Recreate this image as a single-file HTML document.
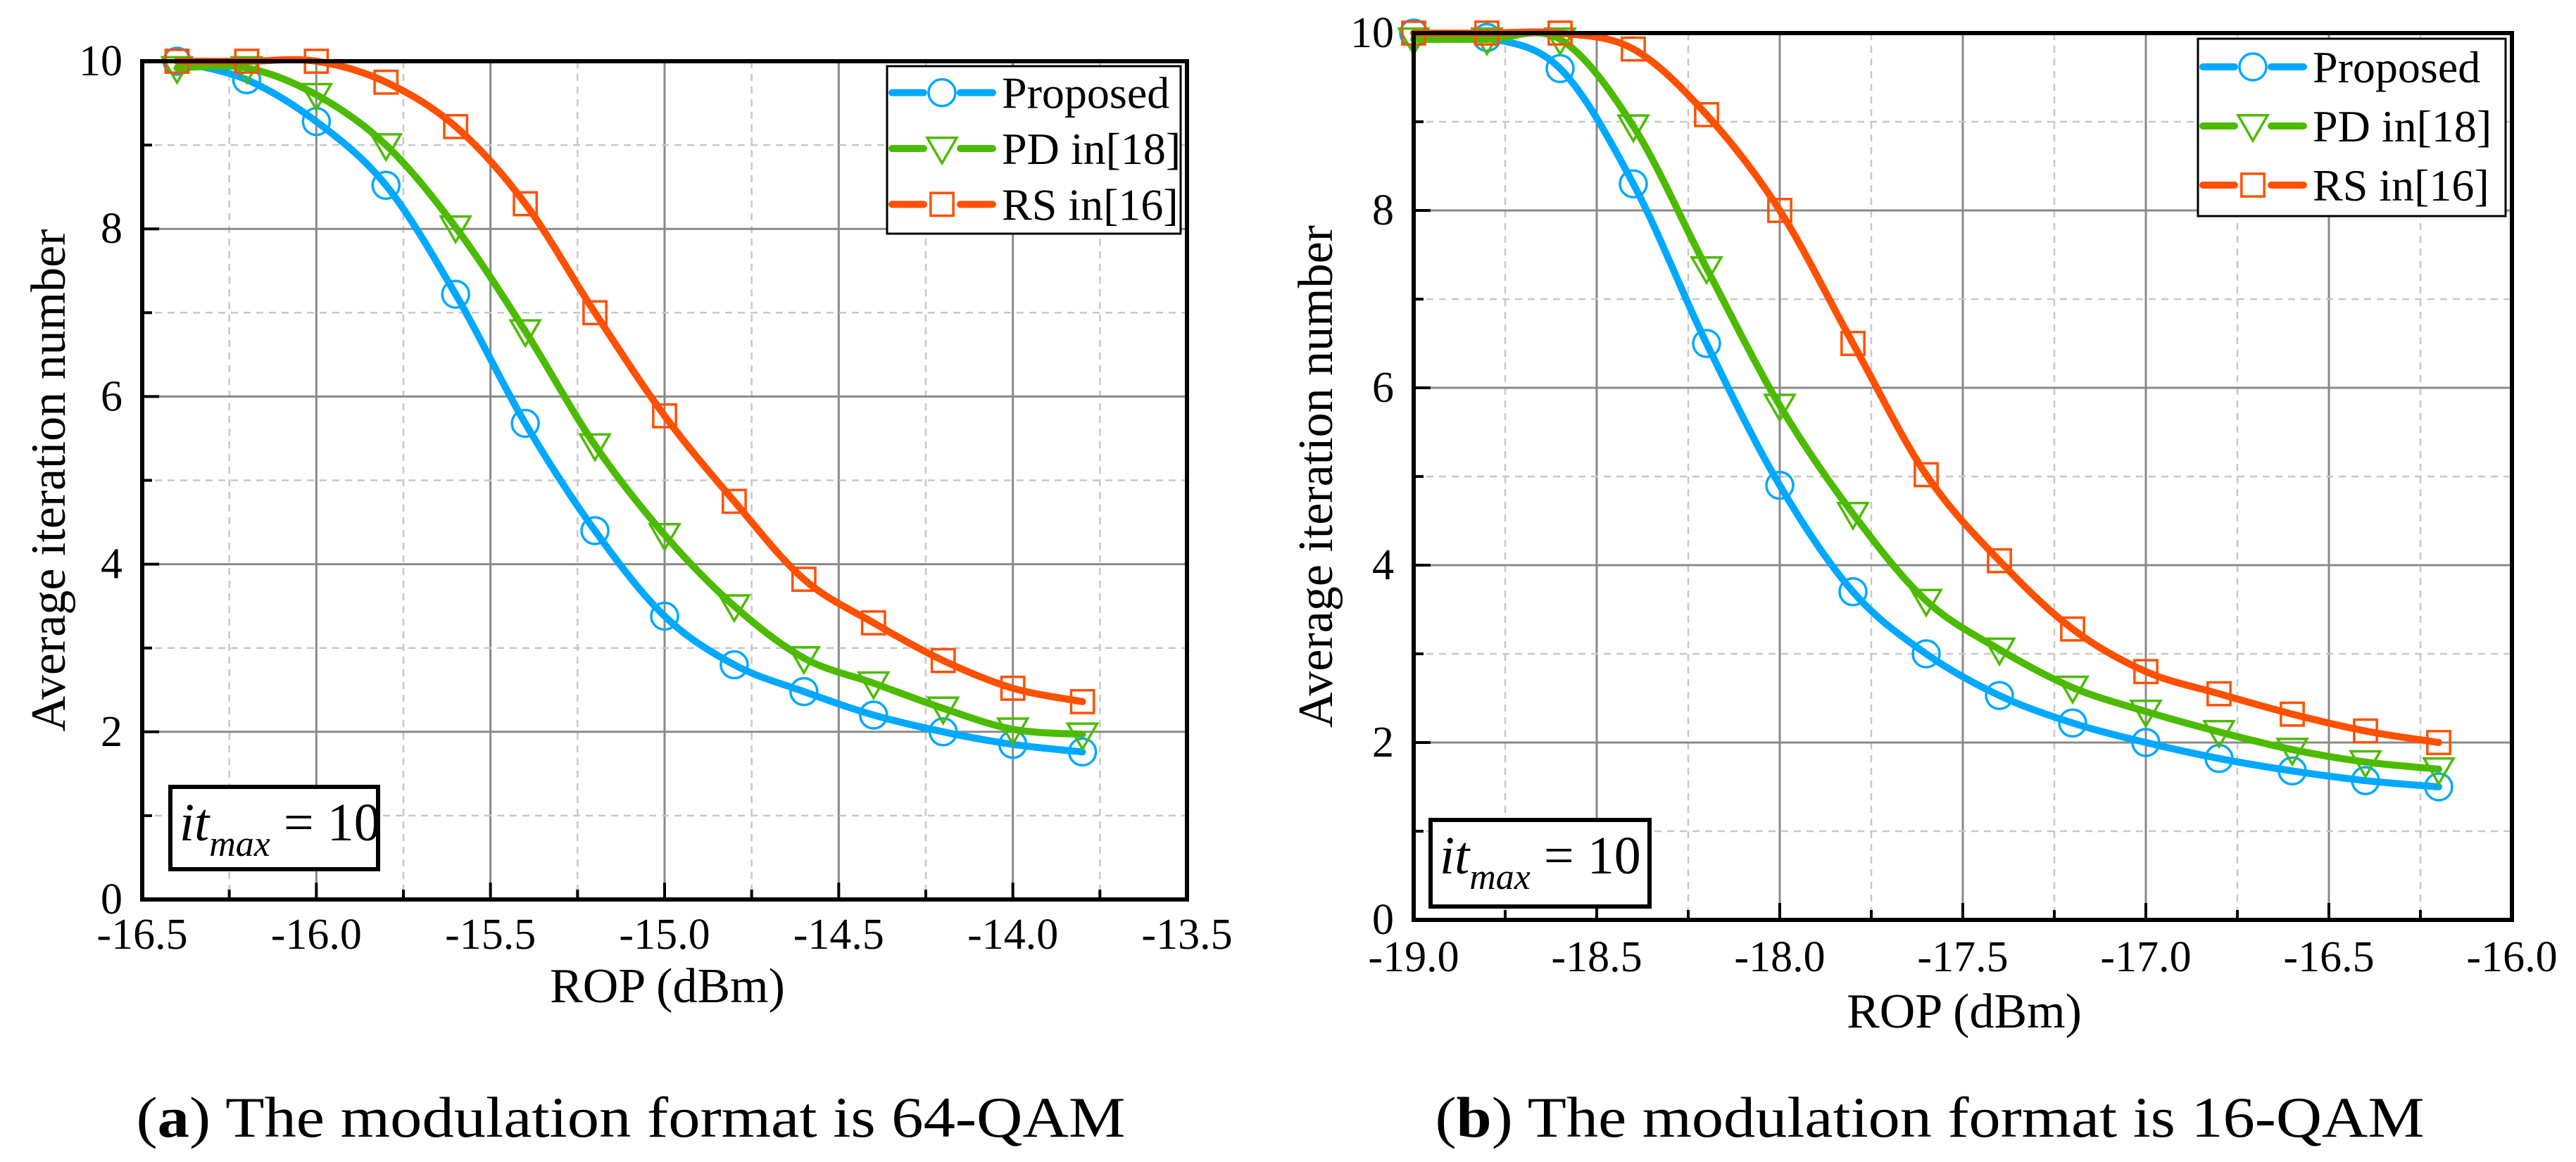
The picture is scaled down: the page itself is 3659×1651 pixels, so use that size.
<!DOCTYPE html>
<html><head><meta charset="utf-8"><style>
html,body{margin:0;padding:0;background:#fff;}
svg{display:block;}
text{font-family:"Liberation Serif","DejaVu Serif",serif;}
</style></head><body>
<svg id="fig" width="3659" height="1651" viewBox="0 0 3659 1651" xmlns="http://www.w3.org/2000/svg" font-family="Liberation Serif, DejaVu Serif, serif"></svg>
<script>
// ---- Chart (a) data: 64-QAM ----
const xA = [-16.4,-16.2,-16.0,-15.8,-15.6,-15.4,-15.2,-15.0,-14.8,-14.6,-14.4,-14.2,-14.0,-13.8];
const proposedA = [10,9.78,9.28,8.52,7.22,5.68,4.4,3.38,2.8,2.48,2.2,2.0,1.85,1.76];
const pdA = [9.92,9.92,9.6,9.0,8.02,6.78,5.42,4.35,3.5,2.88,2.58,2.28,2.03,1.97];
const rsA = [10,10,10,9.75,9.22,8.3,7.0,5.77,4.75,3.82,3.3,2.85,2.52,2.36];
const xTicksA = ["-16.5","-16.0","-15.5","-15.0","-14.5","-14.0","-13.5"];
// ---- Chart (b) data: 16-QAM ----
const xB = [-19.0,-18.8,-18.6,-18.4,-18.2,-18.0,-17.8,-17.6,-17.4,-17.2,-17.0,-16.8,-16.6,-16.4,-16.2];
const proposedB = [10,9.95,9.6,8.3,6.5,4.9,3.7,3.0,2.53,2.22,2.0,1.82,1.68,1.57,1.5];
const pdB = [9.93,9.93,9.93,8.95,7.35,5.8,4.58,3.6,3.05,2.62,2.35,2.12,1.92,1.78,1.7];
const rsB = [10,10,10,9.82,9.08,8.0,6.5,5.02,4.05,3.28,2.8,2.55,2.32,2.13,2.0];
const xTicksB = ["-19.0","-18.5","-18.0","-17.5","-17.0","-16.5","-16.0"];
const yTicks = ["0","2","4","6","8","10"];
const seriesNames = ["Proposed","PD in[18]","RS in[16]"];

const NS="http://www.w3.org/2000/svg";
const FONT='"Liberation Serif","DejaVu Serif",serif';
const svg=document.getElementById('fig');
function mk(tag,attrs,parent){const e=document.createElementNS(NS,tag);for(const k in attrs)e.setAttribute(k,attrs[k]);if(tag==='text')e.style.fontFamily=FONT;(parent||svg).appendChild(e);return e;}
const COLORS=["#00a8ff","#4cbb00","#ff5000"];
const MARK=["circle","tri","square"];

function smoothPath(pts){
  let d="M"+pts[0][0]+","+pts[0][1];
  for(let i=0;i<pts.length-1;i++){
    const p0=pts[i-1]||pts[i],p1=pts[i],p2=pts[i+1],p3=pts[i+2]||p2;
    const c1x=p1[0]+(p2[0]-p0[0])/6,c1y=p1[1]+(p2[1]-p0[1])/6;
    const c2x=p2[0]-(p3[0]-p1[0])/6,c2y=p2[1]-(p3[1]-p1[1])/6;
    d+=" C"+c1x+","+c1y+" "+c2x+","+c2y+" "+p2[0]+","+p2[1];
  }
  return d;
}
function marker(g,type,cx,cy,color,r){
  let m;
  if(type==="circle") m=mk('circle',{cx:cx,cy:cy,r:r,fill:'none',stroke:color,'stroke-width':3.5},g);
  else if(type==="square") m=mk('rect',{x:cx-r*0.85,y:cy-r*0.85,width:r*1.7,height:r*1.7,fill:'none',stroke:color,'stroke-width':3.5},g);
  else m=mk('polygon',{points:(cx-r*1.1)+","+(cy-r*0.8)+" "+(cx+r*1.1)+","+(cy-r*0.8)+" "+cx+","+(cy+r*1.1),fill:'none',stroke:color,'stroke-width':3.5},g);
  return m;
}

function chart(cfg){
  const {L,R,T,B,xmin,xmax,xs,series,xTicks,id}=cfg;
  const X=v=>L+(v-xmin)/(xmax-xmin)*(R-L);
  const Y=v=>B-v/10*(B-T);
  const g=mk('g',{});
  
  
  for(let i=1;i<12;i++){
    const v=xmin+i*0.25;const x=X(v);
    const major=i%2===0;
    const l=mk('line',{x1:x,y1:T,x2:x,y2:B,stroke:major?'#8a8a8a':'#c8c8c8','stroke-width':major?3:2.5,'stroke-dasharray':major?'none':'10,8'},g);
    
    
  }
  for(let i=1;i<10;i++){
    const y=Y(i);const major=i%2===0;
    const l=mk('line',{x1:L,y1:y,x2:R,y2:y,stroke:major?'#8a8a8a':'#c8c8c8','stroke-width':major?3:2.5,'stroke-dasharray':major?'none':'10,8'},g);
    
    
  }
  for(let i=1;i<12;i++){
    const x=X(xmin+i*0.25);const len=i%2===0?24:14;
    mk('line',{x1:x,y1:B,x2:x,y2:B-len,stroke:'#000','stroke-width':4},g);
  }
  for(let i=1;i<10;i++){
    const y=Y(i);const len=i%2===0?24:14;
    mk('line',{x1:L,y1:y,x2:L+len,y2:y,stroke:'#000','stroke-width':4},g);
  }
  series.forEach((ys,si)=>{
    const pts=xs.map((x,i)=>[X(x),Y(ys[i])]);
    const p=mk('path',{d:smoothPath(pts),fill:'none',stroke:COLORS[si],'stroke-width':10,'stroke-linejoin':'round','stroke-linecap':'round'},g);
    
    
    pts.forEach(pt=>{
      const m=marker(g,MARK[si],pt[0],pt[1],COLORS[si],19);
      
      
    });
  });
  const f=mk('rect',{x:L,y:T,width:R-L,height:B-T,fill:'none',stroke:'#000','stroke-width':6},g);
  
  
  xTicks.forEach((t,i)=>{
    const tx=mk('text',{x:X(xmin+i*0.5),y:cfg.tickBase,'font-size':62,'text-anchor':'middle',fill:'#000'},g);
    tx.textContent=t;
    
    
  });
  yTicks.forEach((t,i)=>{
    const tx=mk('text',{x:L-28,y:Y(i*2)+20,'font-size':62,'text-anchor':'end',fill:'#000'},g);
    tx.textContent=t;
    
    
  });
  const xt=mk('text',{x:cfg.xTitleX,y:cfg.xTitleY,'font-size':70,'text-anchor':'middle',fill:'#000'},g);
  xt.textContent="ROP (dBm)";
  
  
  const yt=mk('text',{x:0,y:0,'font-size':70,'text-anchor':'middle',fill:'#000',transform:'translate('+cfg.yTitleX+','+((T+B)/2)+') rotate(-90)'},g);
  yt.textContent="Average iteration number";
  
  
  const lg=cfg.leg;
  const lgg=mk('g',{},g);
  
  
  mk('rect',{x:lg.x1,y:lg.y1,width:lg.x2-lg.x1,height:lg.y2-lg.y1,fill:'#fff',stroke:'#000','stroke-width':3},lgg);
  const rowH=(lg.y2-lg.y1)/3;
  seriesNames.forEach((n,i)=>{
    const cy=lg.y1+rowH*(i+0.5)-2;
    const e=mk('g',{},lgg);
    
    
    mk('line',{x1:lg.x1+7,y1:cy,x2:lg.x1+52,y2:cy,stroke:COLORS[i],'stroke-width':10,'stroke-linecap':'round'},e);
    mk('line',{x1:lg.x1+104,y1:cy,x2:lg.x1+150,y2:cy,stroke:COLORS[i],'stroke-width':10,'stroke-linecap':'round'},e);
    marker(e,MARK[i],lg.x1+78,cy,COLORS[i],19);
    const t=mk('text',{x:lg.x1+163,y:cy+22,'font-size':64,fill:'#000'},e);
    t.textContent=n;
  });
  const ib=cfg.itbox;
  const ig=mk('g',{},g);
  
  
  mk('rect',{x:ib.x1,y:ib.y1,width:ib.x2-ib.x1,height:ib.y2-ib.y1,fill:'#fff',stroke:'#000','stroke-width':6},ig);
  const it=mk('text',{x:ib.x1+13,y:ib.y1+76,'font-size':76,fill:'#000'},ig);
  const a=document.createElementNS(NS,'tspan');a.setAttribute('font-style','italic');a.textContent='it';it.appendChild(a);
  const b=document.createElementNS(NS,'tspan');b.setAttribute('font-style','italic');b.setAttribute('font-size','52');b.setAttribute('dy','22');b.textContent='max';it.appendChild(b);
  const c=document.createElementNS(NS,'tspan');c.setAttribute('dy','-22');c.textContent=' = 10';it.appendChild(c);
  const cap=mk('text',{x:cfg.capX,y:1615,'font-size':82,'text-anchor':'middle',fill:'#000',textLength:1405,lengthAdjust:'spacingAndGlyphs'},g);
  const cb=document.createElementNS(NS,'tspan');cb.textContent='(';cap.appendChild(cb);
  const cb2=document.createElementNS(NS,'tspan');cb2.setAttribute('font-weight','bold');cb2.textContent=cfg.letter;cap.appendChild(cb2);
  const cb3=document.createElementNS(NS,'tspan');cb3.textContent=') The modulation format is '+cfg.fmt;cap.appendChild(cb3);
  
  
}

chart({id:'chart-a',L:202,R:1686,T:87,B:1278,xmin:-16.5,xmax:-13.5,xs:xA,series:[proposedA,pdA,rsA],xTicks:xTicksA,
  tickBase:1348,xTitleX:948,xTitleY:1424,yTitleX:92,capX:896,letter:'a',fmt:'64-QAM',
  leg:{x1:1260,y1:94,x2:1677,y2:332},itbox:{x1:242,y1:1118,x2:537,y2:1235}});
chart({id:'chart-b',L:2008,R:3568,T:47,B:1307,xmin:-19.0,xmax:-16.0,xs:xB,series:[proposedB,pdB,rsB],xTicks:xTicksB,
  tickBase:1380,xTitleX:2790,xTitleY:1460,yTitleX:1892,capX:2741,letter:'b',fmt:'16-QAM',
  leg:{x1:3122,y1:55,x2:3559,y2:307},itbox:{x1:2032,y1:1165,x2:2343,y2:1288}});
</script>
</body></html>
